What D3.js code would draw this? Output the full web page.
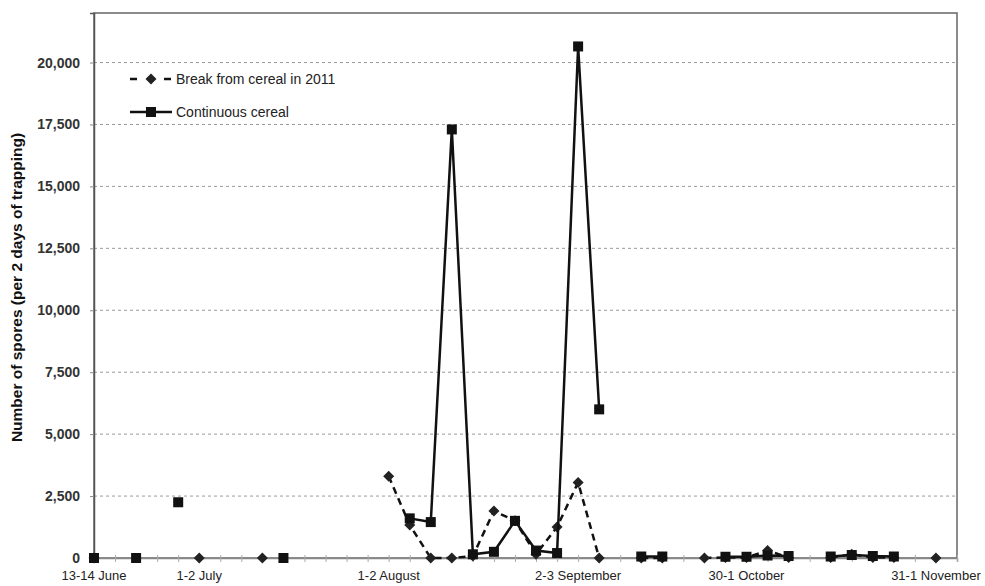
<!DOCTYPE html>
<html>
<head>
<meta charset="utf-8">
<title>Spore counts</title>
<script src="https://cdnjs.cloudflare.com/ajax/libs/d3/7.8.5/d3.min.js"></script>
<style>
  body { margin: 0; background: #fff; }
  text { font-family: "Liberation Sans", Arial, sans-serif; }
</style>
</head>
<body>
<script>
// sampling occasions (category index), labels shown under some of them
var labelIndex = [0, 5, 14, 23, 31, 40];
var labelText = ["13-14 June", "1-2 July", "1-2 August", "2-3 September", "30-1 October", "31-1 November"];
var nSamples = 42;

// spores per 2 days of trapping, null = no sample
var continuous = [0, null, 0, null, 2250, null, null, null, null, 0,
                  null, null, null, null, null, 1600, 1450, 17300, 150, 250,
                  1500, 300, 200, 20650, 6000, null, 60, 60, null, null,
                  50, 50, 100, 80, null, 60, 120, 80, 60, null,
                  null, null];
var breakCrop = [0, null, null, null, null, 0, null, null, 0, null,
                 null, null, null, null, 3300, 1330, 0, 0, 80, 1900,
                 1500, 150, 1250, 3050, 0, null, 0, 0, null, 0,
                 20, 20, 300, 20, null, 20, 150, 20, 20, null,
                 0, null];
var yTicks = [0, 2500, 5000, 7500, 10000, 12500, 15000, 17500, 20000];

var w = 985, h = 586;
var pLeft = 94, pRight = 957, pTop = 13, pBottom = 558;

var svg = d3.select("body").append("svg")
    .attr("width", w)
    .attr("height", h);

var x = d3.scaleLinear().domain([0, nSamples - 1]).range([pLeft, pRight]);
var y = d3.scaleLinear().domain([0, 22000]).range([pBottom, pTop]);

// gridlines
svg.append("g")
    .selectAll("line")
    .data(yTicks.slice(1))
    .enter().append("line")
    .attr("x1", pLeft).attr("x2", pRight)
    .attr("y1", function(d) { return y(d); })
    .attr("y2", function(d) { return y(d); })
    .attr("stroke", "#9a9a9a")
    .attr("stroke-width", 1)
    .attr("stroke-dasharray", "3,3");

// plot box
svg.append("rect")
    .attr("x", pLeft).attr("y", pTop)
    .attr("width", pRight - pLeft).attr("height", pBottom - pTop)
    .attr("fill", "none")
    .attr("stroke", "#666")
    .attr("stroke-width", 1.5);

// y axis
var yAxis = svg.append("g")
    .attr("transform", "translate(" + pLeft + ",0)")
    .call(d3.axisLeft(y).tickValues(yTicks).tickSize(4).tickPadding(10)
        .tickFormat(d3.format(",")));
yAxis.select(".domain").attr("stroke", "#555").attr("stroke-width", 1.5);
yAxis.selectAll(".tick line").attr("stroke", "#888");
yAxis.selectAll(".tick text")
    .attr("font-size", 14)
    .attr("font-weight", "bold")
    .attr("fill", "#333")
    .style("font-family", "'Liberation Sans', Arial, sans-serif");

// x axis: minor ticks at each sample, labels at some
var xAxis = svg.append("g")
    .attr("transform", "translate(0," + pBottom + ")")
    .call(d3.axisBottom(x).tickValues(d3.range(nSamples)).tickSize(4).tickFormat(""));
xAxis.select(".domain").attr("stroke", "#888").attr("stroke-width", 1.5);
xAxis.selectAll(".tick line").attr("stroke", "#aaa").attr("y1", -3);

svg.append("g")
    .selectAll("text")
    .data(labelIndex)
    .enter().append("text")
    .attr("x", function(d) { return x(d); })
    .attr("y", 580)
    .attr("text-anchor", "middle")
    .attr("font-size", 13)
    .attr("fill", "#222")
    .text(function(d, i) { return labelText[i]; });

// y axis title
svg.append("text")
    .attr("transform", "translate(22," + ((pTop + pBottom) / 2 + 2) + ") rotate(-90)")
    .attr("text-anchor", "middle")
    .attr("font-size", 15.5)
    .attr("font-weight", "bold")
    .attr("fill", "#111")
    .text("Number of spores (per 2 days of trapping)");

var line = d3.line()
    .defined(function(d) { return d != null; })
    .x(function(d, i) { return x(i); })
    .y(function(d) { return y(d); });

function points(arr) {
    return arr.map(function(v, i) { return { i: i, v: v }; })
        .filter(function(d) { return d.v != null; });
}

// rotated-square diamond
var diamond = "M0,-5.5L5.5,0L0,5.5L-5.5,0Z";

// break from cereal: dashed with diamonds
svg.append("path")
    .attr("d", line(breakCrop))
    .attr("fill", "none")
    .attr("stroke", "#111")
    .attr("stroke-width", 2.5)
    .attr("stroke-dasharray", "7,5");

svg.append("g")
    .selectAll("path")
    .data(points(breakCrop))
    .enter().append("path")
    .attr("d", diamond)
    .attr("transform", function(d) { return "translate(" + x(d.i) + "," + y(d.v) + ")"; })
    .attr("fill", "#222");

// continuous cereal: solid with squares
svg.append("path")
    .attr("d", line(continuous))
    .attr("fill", "none")
    .attr("stroke", "#111")
    .attr("stroke-width", 2.5);

svg.append("g")
    .selectAll("rect")
    .data(points(continuous))
    .enter().append("rect")
    .attr("x", function(d) { return x(d.i) - 5; })
    .attr("y", function(d) { return y(d.v) - 5; })
    .attr("width", 10).attr("height", 10)
    .attr("fill", "#111");

// legend
var lg = svg.append("g");
lg.append("line")
    .attr("x1", 130).attr("x2", 172).attr("y1", 79).attr("y2", 79)
    .attr("stroke", "#111").attr("stroke-width", 2.5).attr("stroke-dasharray", "7,10");
lg.append("path").attr("d", diamond).attr("transform", "translate(151,79)").attr("fill", "#222");
lg.append("text").attr("x", 176).attr("y", 84).attr("font-size", 14).attr("fill", "#222")
    .text("Break from cereal in 2011");

lg.append("line")
    .attr("x1", 130).attr("x2", 172).attr("y1", 112).attr("y2", 112)
    .attr("stroke", "#111").attr("stroke-width", 2.5);
lg.append("rect").attr("x", 146).attr("y", 107).attr("width", 10).attr("height", 10).attr("fill", "#111");
lg.append("text").attr("x", 176).attr("y", 117).attr("font-size", 14).attr("fill", "#222")
    .text("Continuous cereal");
</script>
</body>
</html>
